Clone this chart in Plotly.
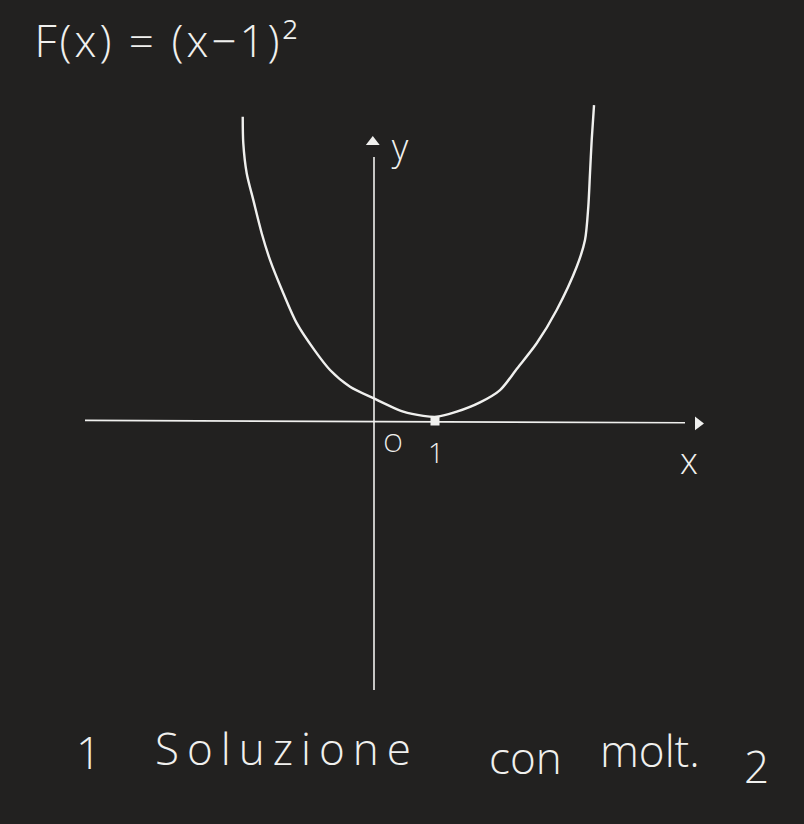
import plotly.graph_objects as go

# Hand-drawn parabola F(x) = (x-1)^2
curve_x = [-2.152, -2.143, -2.087, -1.979, -1.841, -1.705, -1.487, -1.267, -0.979, -0.721,
           -0.393, -0.011, 0.480, 0.808, 1.028, 1.356, 1.738, 2.066, 2.350, 2.667,
           2.995, 3.323, 3.459, 3.513, 3.541, 3.569, 3.607]
curve_y = [10.14, 9.26, 8.26, 7.37, 6.26, 5.37, 4.26, 3.26, 2.37, 1.70,
           1.14, 0.76, 0.31, 0.17, 0.14, 0.31, 0.62, 1.03, 1.76, 2.59,
           3.70, 5.14, 6.03, 7.14, 8.26, 9.37, 10.53]

# Axes extents (data units)
x_axis_x = [-4.738, 5.098]
x_axis_y = [0.02, -0.06]
y_axis_x = [0.0, 0.0]
y_axis_y = [8.8, -8.967]
arrow_x = [5.311, -0.02]
arrow_y = [-0.08, 9.3]
arrow_symbols = ["triangle-right", "triangle-up"]

# Root (double solution)
root_x = [1.0]
root_y = [0.0]

# Axis labels
label_text = ["O", "1", "x", "y"]
label_x = [0.311, 1.016, 5.164, 0.426]
label_y = [-0.833, -1.167, -1.45, 9.0]
label_size = [25, 28, 36, 36]

title_text = "F(x) = (x−1)²"
caption_words = ["1", "Soluzione", "con", "molt.", "2"]
caption_px = [88, 287, 525, 650, 756]
caption_py = [752, 748, 757, 750, 766]

W, H = 804, 824
FG = "#f0f0ee"
BG = "#222120"
FONT = "Open Sans"

fig = go.Figure()
fig.add_trace(go.Scatter(x=x_axis_x, y=x_axis_y, mode="lines",
                         line=dict(color=FG, width=1.6), hoverinfo="skip"))
fig.add_trace(go.Scatter(x=y_axis_x, y=y_axis_y, mode="lines",
                         line=dict(color=FG, width=1.6), hoverinfo="skip"))
fig.add_trace(go.Scatter(x=arrow_x, y=arrow_y, mode="markers",
                         marker=dict(symbol=arrow_symbols, size=12, color=FG),
                         hoverinfo="skip"))
fig.add_trace(go.Scatter(x=curve_x, y=curve_y, mode="lines",
                         line=dict(color=FG, width=2.4, shape="spline", smoothing=0.8),
                         hoverinfo="skip"))
fig.add_trace(go.Scatter(x=root_x, y=root_y, mode="markers",
                         marker=dict(symbol="square", size=9, color=FG),
                         hoverinfo="skip"))
fig.add_trace(go.Scatter(x=label_x, y=label_y, mode="text", text=label_text,
                         textfont=dict(family=FONT, size=label_size, color=FG, weight=300),
                         hoverinfo="skip"))

fig.add_annotation(x=52 / W, y=1 - 40 / H, xref="paper", yref="paper",
                   xanchor="left", yanchor="middle", showarrow=False,
                   text=title_text,
                   font=dict(family=FONT, size=44, color=FG, weight=300))
for w, px, py in zip(caption_words, caption_px, caption_py):
    fig.add_annotation(x=px / W, y=1 - py / H, xref="paper", yref="paper",
                       xanchor="center", yanchor="middle", showarrow=False,
                       text=w, font=dict(family=FONT, size=44, color=FG, weight=300))

fig.update_layout(
    width=W, height=H,
    margin=dict(l=0, r=0, t=0, b=0),
    paper_bgcolor=BG, plot_bgcolor=BG,
    showlegend=False,
    xaxis=dict(range=[-374 / 61, 430 / 61], visible=False, fixedrange=True),
    yaxis=dict(range=[-403 / 30, 421 / 30], visible=False, fixedrange=True),
)

post = """
document.body.style.margin = '0';
document.body.style.background = '%s';
document.documentElement.style.background = '%s';
document.body.style.overflow = 'hidden';
var sp = {'Soluzione': '8px', 'F(x) = (x\\u22121)\\u00b2': '3px'};
document.querySelectorAll('.annotation-text').forEach(function(t) {
  var s = sp[t.textContent];
  if (s) { t.style.letterSpacing = s; }
});
""" % (BG, BG)

fig.write_html("out.html", post_script=post, config={"displayModeBar": False})
